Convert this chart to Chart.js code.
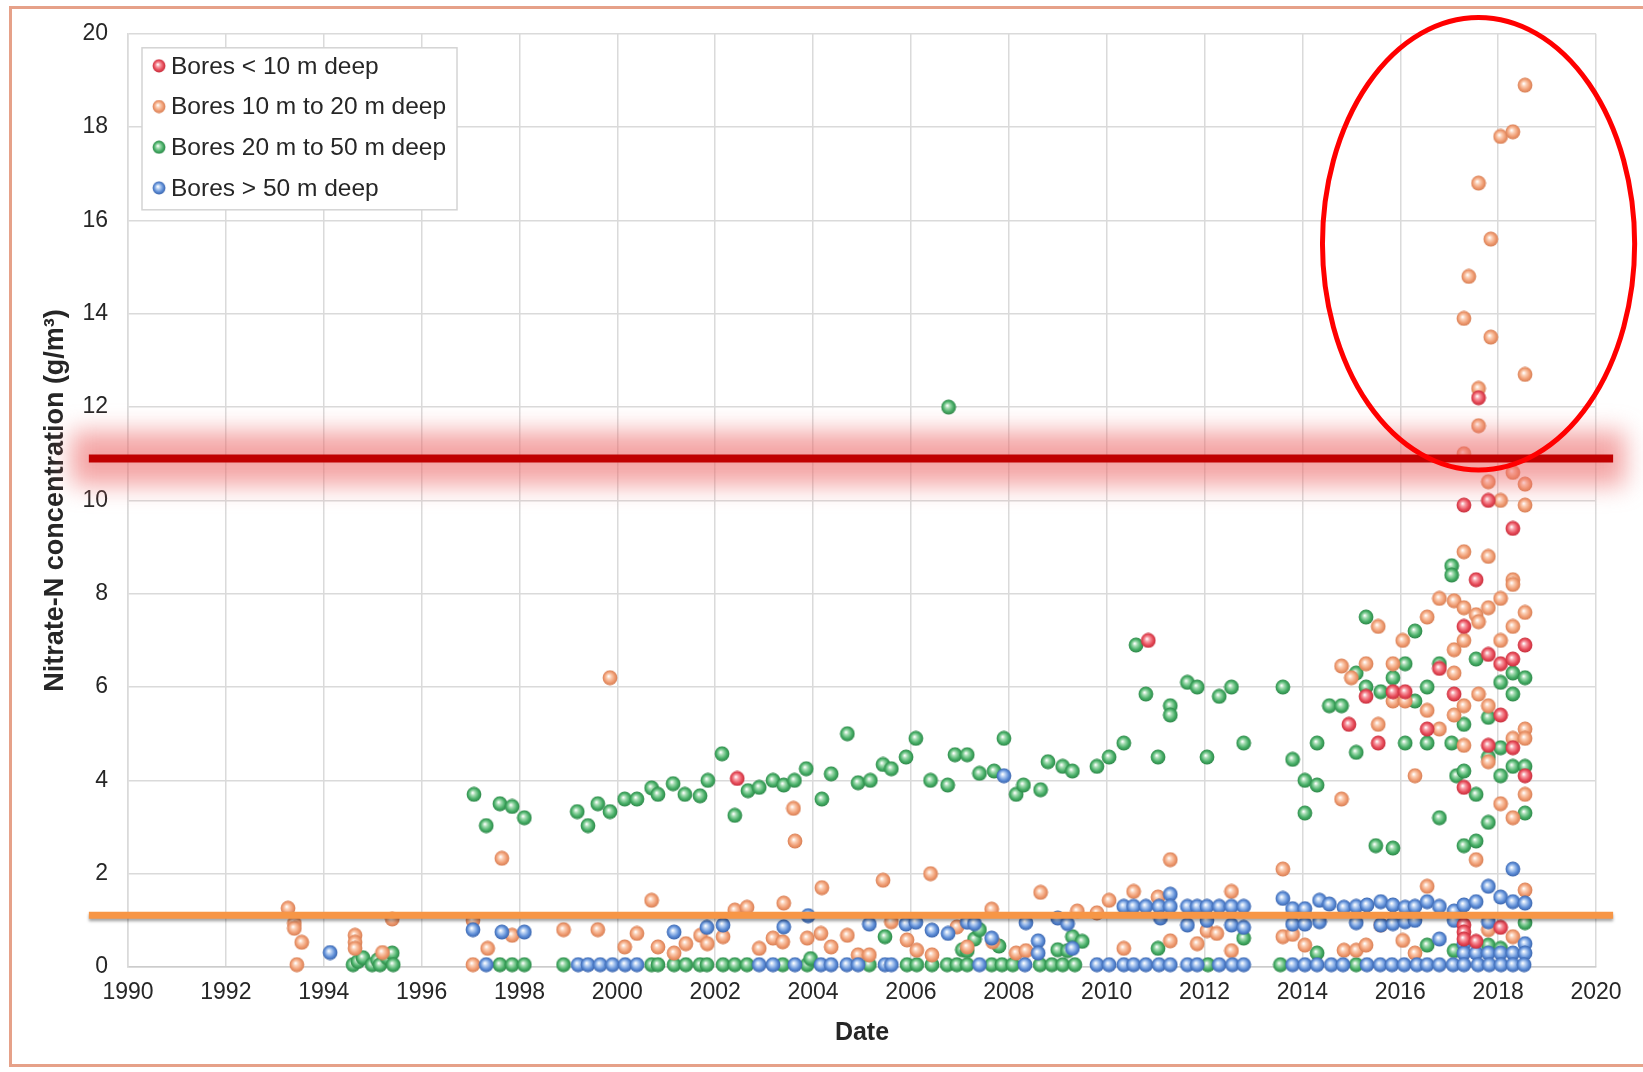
<!DOCTYPE html>
<html>
<head>
<meta charset="utf-8">
<title>Nitrate-N concentration by bore depth</title>
<script src="https://cdn.jsdelivr.net/npm/chart.js@4.4.1/dist/chart.umd.min.js"></script>
<style>
  html, body { margin: 0; padding: 0; background: #fff; overflow: hidden; }
  #wrap { position: relative; width: 1643px; height: 1072px; }
  #frame { position: absolute; left: 9px; top: 6px; width: 1700px; height: 1061px; border: 3px solid #e6a189; border-right: none; box-sizing: border-box; }
  #nitrateChart { position: absolute; left: 0; top: 0; }
</style>
</head>
<body>
<div id="wrap">
  <div id="frame"></div>
  <canvas id="nitrateChart" width="1643" height="1072"></canvas>
</div>
<script>
/* globals Chart:false */
'use strict'

const seriesLabels = [
  'Bores < 10 m deep',
  'Bores 10 m to 20 m deep',
  'Bores 20 m to 50 m deep',
  'Bores > 50 m deep'
]

const xTickYears = [1990, 1992, 1994, 1996, 1998, 2000, 2002, 2004, 2006, 2008, 2010, 2012, 2014, 2016, 2018, 2020]
const yTickValues = [0, 2, 4, 6, 8, 10, 12, 14, 16, 18, 20]

// Bores < 10 m
const shallowYears = [2002.45, 2010.85, 2014.95, 2015.3, 2015.55, 2015.85, 2016.1, 2016.55, 2016.8, 2017.1,
  2017.3, 2017.3, 2017.3, 2017.3, 2017.3, 2017.3, 2017.55, 2017.55, 2017.6, 2017.8,
  2017.8, 2017.8, 2018.05, 2018.05, 2018.05, 2018.3, 2018.3, 2018.3, 2018.55, 2018.55]
const shallowValues = [4.04, 7.0, 5.2, 5.8, 4.8, 5.9, 5.9, 5.1, 6.4, 5.85,
  7.3, 3.85, 9.9, 0.9, 0.75, 0.6, 8.3, 0.55, 12.2, 10.0,
  6.7, 4.75, 6.5, 5.4, 0.85, 9.4, 6.6, 4.7, 6.9, 4.1]

// Bores 10 m to 20 m
const midYears = [1993.27, 1993.4, 1993.4, 1993.55, 1993.45, 1994.64, 1994.64, 1994.64, 1995.2, 1995.4,
  1997.05, 1997.05, 1997.35, 1997.64, 1997.85, 1998.9, 1999.6, 1999.85, 2000.15, 2000.4,
  2000.7, 2000.83, 2001.16, 2001.4, 2001.7, 2001.84, 2002.16, 2002.4, 2002.65, 2002.9,
  2003.18, 2003.38, 2003.4, 2003.6, 2003.63, 2003.88, 2004.16, 2004.18, 2004.37, 2004.7,
  2004.92, 2005.15, 2005.43, 2005.6, 2005.92, 2006.12, 2006.4, 2006.43, 2006.94, 2007.15,
  2007.65, 2007.67, 2008.15, 2008.35, 2008.65, 2009.4, 2009.8, 2010.05, 2010.35, 2010.55,
  2011.05, 2011.3, 2011.3, 2011.85, 2012.05, 2012.25, 2012.55, 2012.55, 2013.6, 2013.6,
  2013.8, 2014.05, 2014.8, 2014.8, 2014.85, 2015.0, 2015.1, 2015.3, 2015.3, 2015.55,
  2015.55, 2015.6, 2015.85, 2015.85, 2016.05, 2016.05, 2016.1, 2016.3, 2016.3, 2016.55,
  2016.55, 2016.55, 2016.8, 2016.8, 2017.1, 2017.1, 2017.1, 2017.1, 2017.3, 2017.3,
  2017.3, 2017.3, 2017.3, 2017.3, 2017.3, 2017.4, 2017.55, 2017.55, 2017.6, 2017.6,
  2017.6, 2017.6, 2017.6, 2017.8, 2017.8, 2017.8, 2017.8, 2017.8, 2017.8, 2017.85,
  2017.85, 2018.05, 2018.05, 2018.05, 2018.05, 2018.05, 2018.3, 2018.3, 2018.3, 2018.3,
  2018.3, 2018.3, 2018.3, 2018.3, 2018.55, 2018.55, 2018.55, 2018.55, 2018.55, 2018.55,
  2018.55, 2018.55, 2018.55]
const midValues = [1.26, 0.94, 0.83, 0.53, 0.05, 0.68, 0.53, 0.4, 0.31, 1.03,
  1.0, 0.05, 0.4, 2.33, 0.68, 0.8, 0.8, 6.2, 0.43, 0.72,
  1.43, 0.43, 0.3, 0.5, 0.68, 0.5, 0.65, 1.22, 1.28, 0.4,
  0.62, 0.54, 1.37, 3.4, 2.7, 0.62, 0.72, 1.7, 0.43, 0.68,
  0.26, 0.26, 1.86, 0.97, 0.58, 0.36, 2.0, 0.26, 0.86, 0.43,
  1.24, 0.54, 0.3, 0.35, 1.6, 1.2, 1.16, 1.43, 0.4, 1.62,
  1.5, 2.3, 0.56, 0.5, 0.78, 0.72, 1.62, 0.35, 2.1, 0.65,
  0.7, 0.47, 3.6, 6.45, 0.36, 6.2, 0.36, 6.5, 0.47, 7.3,
  5.2, 0.9, 6.5, 5.7, 7.0, 0.57, 5.7, 4.1, 0.3, 7.5,
  5.5, 1.73, 7.9, 5.1, 7.85, 6.8, 6.3, 5.4, 8.9, 7.7,
  7.0, 5.6, 4.75, 11.0, 13.9, 14.8, 7.55, 2.3, 7.4, 5.85,
  11.6, 12.4, 16.8, 10.4, 8.8, 7.7, 5.6, 4.4, 0.8, 13.5,
  15.6, 17.8, 10.0, 7.9, 7.0, 3.5, 17.9, 10.6, 8.3, 8.2,
  7.3, 4.9, 3.2, 0.65, 18.9, 12.7, 10.35, 9.9, 7.6, 5.1,
  4.9, 3.7, 1.65]

// Bores 20 m to 50 m
const deepYears = [1994.6, 1994.7, 1994.8, 1994.99, 1995.1, 1995.15, 1995.3, 1995.4, 1995.42, 1997.07,
  1997.32, 1997.6, 1997.85, 1998.1, 1997.6, 1997.85, 1998.1, 1998.9, 1999.18, 1999.4,
  1999.6, 1999.85, 2000.15, 2000.4, 2000.7, 2000.83, 2001.14, 2001.38, 2001.69, 2001.85,
  2002.14, 2002.4, 2002.67, 2002.9, 2003.18, 2003.4, 2003.62, 2003.86, 2004.18, 2004.37,
  2004.7, 2004.92, 2005.17, 2005.43, 2005.6, 2005.9, 2006.1, 2006.4, 2006.75, 2006.77,
  2006.9, 2007.15, 2007.4, 2007.7, 2007.9, 2008.15, 2008.3, 2008.65, 2008.8, 2009.1,
  2009.3, 2009.8, 2010.05, 2010.35, 2010.6, 2010.8, 2011.05, 2011.3, 2011.3, 2011.65,
  2011.85, 2012.05, 2012.3, 2012.55, 2012.8, 2013.6, 2013.8, 2014.05, 2014.05, 2014.3,
  2014.3, 2014.55, 2014.8, 2015.1, 2015.1, 2015.3, 2015.3, 2015.5, 2015.6, 2015.85,
  2015.85, 2016.1, 2016.1, 2016.3, 2016.3, 2016.55, 2016.55, 2016.8, 2016.8, 2017.05,
  2017.05, 2017.05, 2017.15, 2017.3, 2017.3, 2017.3, 2017.55, 2017.55, 2017.55, 2017.8,
  2017.8, 2017.8, 2018.05, 2018.05, 2018.05, 2018.3, 2018.3, 2018.3, 2018.55, 2018.55,
  2018.55, 2018.55, 2000.7, 2000.83, 2001.16, 2001.4, 2001.69, 2001.83, 2002.16, 2002.4,
  2002.65, 2003.38, 2003.88, 2003.95, 2005.15, 2005.47, 2005.92, 2006.12, 2006.43, 2006.74,
  2006.94, 2007.05, 2007.15, 2007.15, 2007.3, 2007.4, 2007.65, 2007.8, 2007.86, 2008.08,
  2008.64, 2008.88, 2009.0, 2009.1, 2009.2, 2009.3, 2009.35, 2009.5, 2011.05, 2012.07,
  2012.8, 2013.55, 2014.3, 2015.1, 2016.55, 2017.1, 2017.8, 2018.05]
const deepValues = [0.05, 0.12, 0.2, 0.05, 0.15, 0.05, 0.2, 0.3, 0.05, 3.7,
  3.03, 3.5, 3.44, 3.2, 0.05, 0.05, 0.05, 0.05, 3.33, 3.03,
  3.5, 3.33, 3.6, 3.6, 3.84, 3.7, 3.93, 3.7, 3.67, 4.0,
  4.57, 3.25, 3.78, 3.85, 4.0, 3.9, 4.0, 4.25, 3.6, 4.14,
  5.0, 3.95, 4.0, 4.34, 4.25, 4.5, 4.9, 4.0, 3.9, 12.0,
  4.55, 4.55, 4.15, 4.2, 4.9, 3.7, 3.9, 3.8, 4.4, 4.3,
  4.2, 4.3, 4.5, 4.8, 6.9, 5.85, 4.5, 5.6, 5.4, 6.1,
  6.0, 4.5, 5.8, 6.0, 4.8, 6.0, 4.45, 4.0, 3.3, 3.9,
  4.8, 5.6, 5.6, 6.3, 4.6, 7.5, 6.0, 2.6, 5.9, 6.2,
  2.55, 6.5, 4.8, 7.2, 5.7, 6.0, 4.8, 6.5, 3.2, 8.6,
  8.4, 4.8, 4.1, 5.2, 4.2, 2.6, 6.6, 3.7, 2.7, 5.35,
  4.5, 3.1, 6.1, 4.7, 4.1, 6.3, 5.85, 4.3, 6.2, 4.3,
  3.3, 0.95, 0.05, 0.05, 0.05, 0.05, 0.05, 0.05, 0.05, 0.05,
  0.05, 0.05, 0.05, 0.18, 0.05, 0.65, 0.05, 0.05, 0.05, 0.05,
  0.05, 0.37, 0.35, 0.05, 0.6, 0.8, 0.05, 0.45, 0.05, 0.05,
  0.05, 0.05, 0.37, 0.05, 0.35, 0.65, 0.05, 0.55, 0.4, 0.05,
  0.62, 0.05, 0.3, 0.05, 0.47, 0.35, 0.47, 0.4]

// Bores > 50 m
const deepestYears = [1994.13, 1997.05, 1997.32, 1997.64, 1998.1, 1999.2, 1999.4, 1999.65, 1999.9, 2000.16,
  2000.4, 2001.16, 2001.83, 2002.16, 2002.9, 2003.18, 2003.4, 2003.63, 2003.9, 2004.16,
  2004.37, 2004.69, 2004.92, 2005.15, 2005.47, 2005.6, 2005.9, 2006.1, 2006.43, 2006.76,
  2007.15, 2007.3, 2007.4, 2007.65, 2007.9, 2008.33, 2008.35, 2008.6, 2008.6, 2009.0,
  2009.2, 2009.3, 2009.8, 2010.05, 2010.35, 2010.35, 2010.55, 2010.55, 2010.8, 2010.8,
  2011.07, 2011.07, 2011.1, 2011.3, 2011.3, 2011.3, 2011.65, 2011.65, 2011.65, 2011.85,
  2011.85, 2012.05, 2012.05, 2012.3, 2012.3, 2012.55, 2012.55, 2012.57, 2012.8, 2012.8,
  2012.8, 2013.6, 2013.8, 2013.8, 2013.8, 2014.05, 2014.05, 2014.05, 2014.35, 2014.35,
  2014.3, 2014.55, 2014.59, 2014.85, 2014.83, 2015.1, 2015.1, 2015.32, 2015.32, 2015.6,
  2015.6, 2015.59, 2015.85, 2015.85, 2015.83, 2016.1, 2016.1, 2016.08, 2016.3, 2016.3,
  2016.34, 2016.55, 2016.55, 2016.8, 2016.8, 2016.8, 2017.1, 2017.1, 2017.08, 2017.3,
  2017.3, 2017.3, 2017.3, 2017.55, 2017.55, 2017.59, 2017.8, 2017.8, 2017.8, 2017.82,
  2018.05, 2018.05, 2018.06, 2018.3, 2018.3, 2018.3, 2018.3, 2018.55, 2018.55, 2018.55,
  2018.53]
const deepestValues = [0.31, 0.8, 0.05, 0.75, 0.75, 0.05, 0.05, 0.05, 0.05, 0.05,
  0.05, 0.75, 0.85, 0.9, 0.05, 0.05, 0.86, 0.05, 1.1, 0.05,
  0.05, 0.05, 0.05, 0.92, 0.05, 0.05, 0.92, 0.96, 0.79, 0.72,
  0.96, 0.93, 0.05, 0.62, 4.1, 0.05, 0.95, 0.56, 0.3, 1.05,
  0.93, 0.4, 0.05, 0.05, 1.3, 0.05, 1.3, 0.05, 1.3, 0.05,
  1.3, 0.05, 1.05, 1.56, 1.3, 0.05, 1.3, 0.9, 0.05, 1.3,
  0.05, 1.3, 1.0, 1.3, 0.05, 1.3, 0.9, 0.05, 1.3, 0.85,
  0.05, 1.47, 1.25, 0.92, 0.05, 1.25, 0.92, 0.05, 1.43, 0.97,
  0.05, 1.35, 0.05, 1.28, 0.05, 1.3, 0.95, 1.33, 0.05, 1.4,
  0.9, 0.05, 1.33, 0.93, 0.05, 1.28, 0.97, 0.05, 1.3, 1.0,
  0.05, 1.4, 0.05, 1.3, 0.6, 0.05, 1.2, 1.0, 0.05, 1.33,
  0.5, 0.3, 0.05, 1.4, 0.3, 0.05, 1.73, 0.97, 0.3, 0.05,
  1.5, 0.3, 0.05, 2.1, 1.4, 0.3, 0.05, 1.37, 0.5, 0.3,
  0.05]

// hand-drawn markings on the original figure, in axis units
const redLimit = 10.9
const orangeLimit = 1.11
const markLineYears = [1989.2, 2020.35]
const circleCentre = [2017.6, 15.5]
const circleRadii = [3.19, 4.85]

const fontFamily = '"Liberation Sans", Arial, sans-serif'

function makeBall (light, base, rim) {
  const c = document.createElement('canvas')
  c.width = 16
  c.height = 16
  const g = c.getContext('2d')
  const grad = g.createRadialGradient(6.6, 6.4, 0.3, 8, 8, 7.6)
  grad.addColorStop(0, '#ffffff')
  grad.addColorStop(0.28, light)
  grad.addColorStop(0.68, base)
  grad.addColorStop(1, rim)
  g.fillStyle = grad
  g.beginPath()
  g.arc(8, 8, 7.4, 0, Math.PI * 2)
  g.fill()
  return c
}

const balls = [
  makeBall('#f7a0a8', '#e84c5a', '#c42c3a'),
  makeBall('#fbcfb5', '#f09c72', '#d57c52'),
  makeBall('#a2dbb0', '#46ae66', '#2b8446'),
  makeBall('#b6cff2', '#5c8cd6', '#3862aa')
]

const toPoints = (xs, ys) => xs.map((x, i) => ({ x, y: ys[i] }))

const decorations = {
  id: 'decorations',
  afterDatasetsDraw (chart) {
    const { ctx, chartArea, scales: { x, y } } = chart

    // legend box
    const lx = chartArea.left + 14
    const ly = chartArea.top + 14
    ctx.save()
    ctx.fillStyle = '#ffffff'
    ctx.strokeStyle = '#d4d4d4'
    ctx.lineWidth = 1.5
    ctx.fillRect(lx, ly, 315, 162)
    ctx.strokeRect(lx, ly, 315, 162)
    ctx.font = `24.5px ${fontFamily}`
    ctx.fillStyle = '#262626'
    ctx.textBaseline = 'middle'
    chart.data.datasets.forEach((ds, i) => {
      const rowY = ly + 18 + i * 40.7
      ctx.drawImage(ds.pointStyle, lx + 10, rowY - 7, 14, 14)
      ctx.fillText(ds.label, lx + 29, rowY + 1)
    })
    ctx.restore()

    const x0 = x.getPixelForValue(markLineYears[0])
    const x1 = x.getPixelForValue(markLineYears[1])

    // pink glow behind red line
    const yr = y.getPixelForValue(redLimit)
    ctx.save()
    ctx.filter = 'blur(12px)'
    ctx.fillStyle = 'rgba(236, 105, 105, 0.6)'
    ctx.fillRect(x0 - 18, yr - 27, x1 - x0 + 30, 54)
    ctx.restore()

    ctx.save()
    ctx.strokeStyle = '#c00000'
    ctx.lineWidth = 8
    ctx.beginPath()
    ctx.moveTo(x0, yr)
    ctx.lineTo(x1, yr)
    ctx.stroke()
    ctx.restore()

    // orange line with soft shadow
    const yo = y.getPixelForValue(orangeLimit)
    ctx.save()
    ctx.shadowColor = 'rgba(0, 0, 0, 0.35)'
    ctx.shadowOffsetY = 2.5
    ctx.shadowBlur = 3
    ctx.strokeStyle = '#f79646'
    ctx.lineWidth = 7
    ctx.beginPath()
    ctx.moveTo(x0, yo)
    ctx.lineTo(x1, yo)
    ctx.stroke()
    ctx.restore()

    // red ellipse
    const cx = x.getPixelForValue(circleCentre[0])
    const cy = y.getPixelForValue(circleCentre[1])
    const rx = x.getPixelForValue(circleCentre[0] + circleRadii[0]) - cx
    const ry = cy - y.getPixelForValue(circleCentre[1] + circleRadii[1])
    ctx.save()
    ctx.strokeStyle = '#ff0000'
    ctx.lineWidth = 5
    ctx.beginPath()
    ctx.ellipse(cx, cy, rx, ry, 0, 0, Math.PI * 2)
    ctx.stroke()
    ctx.restore()
  }
}

const chartElement = document.getElementById('nitrateChart')

// eslint-disable-next-line no-unused-vars
const nitrateChart = new Chart(chartElement, {
  type: 'scatter',
  data: {
    datasets: [
      { label: seriesLabels[0], data: toPoints(shallowYears, shallowValues), pointStyle: balls[0], order: 1 },
      { label: seriesLabels[1], data: toPoints(midYears, midValues), pointStyle: balls[1], order: 3 },
      { label: seriesLabels[2], data: toPoints(deepYears, deepValues), pointStyle: balls[2], order: 4 },
      { label: seriesLabels[3], data: toPoints(deepestYears, deepestValues), pointStyle: balls[3], order: 2 }
    ].map(ds => Object.assign(ds, { clip: false, pointRadius: 8, pointHoverRadius: 8 }))
  },
  options: {
    responsive: false,
    animation: false,
    events: [],
    layout: {
      padding: { left: 0, top: 31, right: 47, bottom: 0 }
    },
    plugins: {
      legend: { display: false },
      tooltip: { enabled: false }
    },
    scales: {
      x: {
        type: 'linear',
        min: xTickYears[0],
        max: xTickYears[xTickYears.length - 1],
        afterFit: scale => { scale.height = 105 },
        afterBuildTicks: scale => { scale.ticks = xTickYears.map(value => ({ value })) },
        ticks: {
          padding: 12,
          maxRotation: 0,
          autoSkip: false,
          color: '#262626',
          font: { family: fontFamily, size: 23 },
          callback: value => String(value)
        },
        grid: { color: '#dadada', lineWidth: 1.5, drawTicks: false },
        border: { color: '#cccccc', width: 1.5 },
        title: {
          display: true,
          text: 'Date',
          color: '#262626',
          font: { family: fontFamily, size: 25, weight: 'bold' },
          padding: { top: 0, bottom: 24 }
        }
      },
      y: {
        min: yTickValues[0],
        max: yTickValues[yTickValues.length - 1],
        afterFit: scale => { scale.width = 128 },
        afterBuildTicks: scale => { scale.ticks = yTickValues.map(value => ({ value })) },
        ticks: {
          padding: 20,
          color: '#262626',
          font: { family: fontFamily, size: 23 },
          callback: value => String(value)
        },
        grid: { color: '#dadada', lineWidth: 1.5, drawTicks: false },
        border: { color: '#dadada', width: 1.5 },
        title: {
          display: true,
          text: 'Nitrate-N concentration (g/m³)',
          color: '#262626',
          font: { family: fontFamily, size: 27, weight: 'bold' },
          padding: { top: 39, bottom: 0 }
        }
      }
    }
  },
  plugins: [decorations]
})
</script>
</body>
</html>
